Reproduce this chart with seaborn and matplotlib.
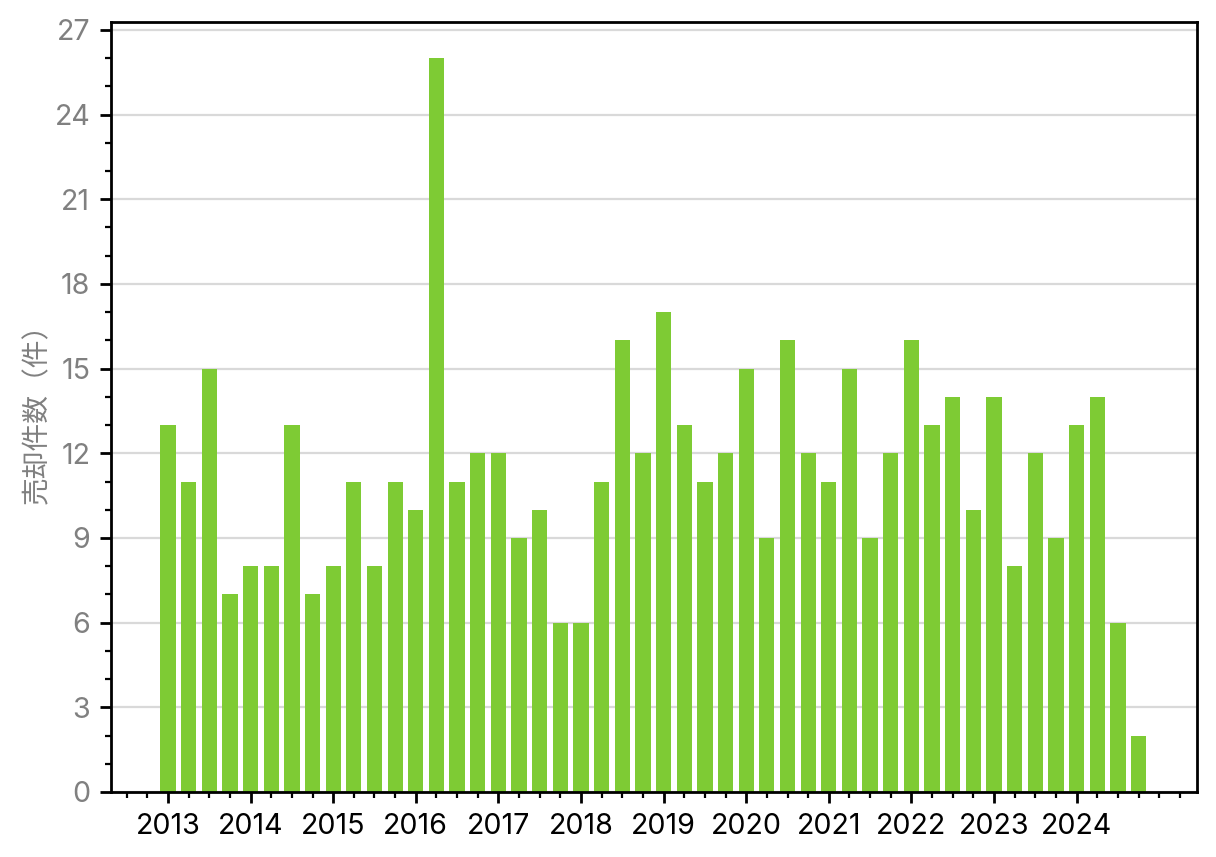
import matplotlib
matplotlib.use("Agg")
import matplotlib.pyplot as plt
import seaborn as sns
import pandas as pd
import numpy as np
from matplotlib.ticker import MultipleLocator, FixedLocator

years = list(range(2013, 2025))
quarters = ["Q1", "Q2", "Q3", "Q4"]
values = [
    13, 11, 15, 7,
    8, 8, 13, 7,
    8, 11, 8, 11,
    10, 26, 11, 12,
    12, 9, 10, 6,
    6, 11, 16, 12,
    17, 13, 11, 12,
    15, 9, 16, 12,
    11, 15, 9, 12,
    16, 13, 14, 10,
    14, 8, 12, 9,
    13, 14, 6, 2,
]
periods = [f"{y}{q}" for y in years for q in quarters]
year_labels = [str(y) for y in years]

df = pd.DataFrame({"period": periods, "count": values})

sns.set_theme(style="white")
plt.rcParams['font.family'] = ['Inter', 'Noto Sans CJK JP', 'DejaVu Sans']

fig = plt.figure(figsize=(6.08, 4.285), dpi=200)
ax = fig.add_axes([111/1216, 1-792/857, (1197-111)/1216, (792-22)/857])

sns.barplot(data=df, x="period", y="count", order=periods, color="#7ECB34",
            saturation=1, width=0.74, linewidth=0, edgecolor="none", ax=ax)

ax.set_xlim(-2.76, 49.83)
ax.set_ylim(0, 27.28)

ax.xaxis.set_major_locator(FixedLocator(np.arange(0, 48, 4)))
ax.set_xticklabels(year_labels)
ax.xaxis.set_minor_locator(FixedLocator([i for i in range(-2, 50) if i % 4 != 0 or i < 0 or i > 44]))
ax.yaxis.set_major_locator(MultipleLocator(3))
ax.yaxis.set_minor_locator(MultipleLocator(1))

ax.tick_params(axis="both", which="major", direction="out", length=4, width=1, color="black",
               bottom=True, left=True, labelsize=10.3)
ax.tick_params(axis="both", which="minor", direction="out", length=2.2, width=0.8, color="black",
               bottom=True, left=True)
ax.tick_params(axis="y", labelcolor="#808080")
ax.tick_params(axis="x", labelcolor="black")

ax.yaxis.grid(True, which="major", color="#d9d9d9", linewidth=0.8)
ax.xaxis.grid(False)
ax.set_axisbelow(True)

for s in ax.spines.values():
    s.set_visible(True)
    s.set_color("black")
    s.set_linewidth(1.0)

ax.set_xlabel("")
ax.set_ylabel("売却件数（件）", color="#808080", fontsize=10, labelpad=1,
              family=['Noto Sans CJK JP', 'DejaVu Sans'])

fig.savefig("out.png", dpi=200)
